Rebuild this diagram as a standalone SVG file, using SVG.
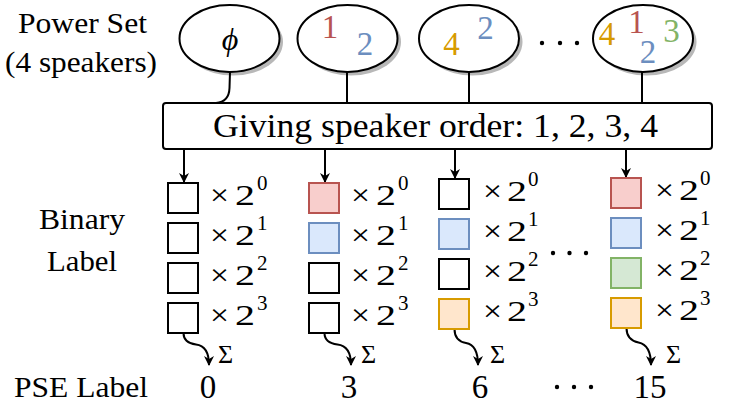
<svg xmlns="http://www.w3.org/2000/svg" width="748" height="416" viewBox="0 0 748 416">
<defs>
<style>
.el{fill:#fff;stroke:#000;stroke-width:2}
.sh{fill:#b8b8b8}
.bx{stroke-width:2}
.w{fill:#fff;stroke:#000}
.r{fill:#f8cecc;stroke:#b85450}
.b{fill:#dae8fc;stroke:#6c8ebf}
.g{fill:#d5e8d4;stroke:#82b366}
.o{fill:#ffe6cc;stroke:#d79b00}
.ln{fill:none;stroke:#000;stroke-width:2}
.cr{fill:#b85450}.cb{fill:#6c8ebf}.cg{fill:#82b366}.co{fill:#d79b00}
</style>
<marker id="ah" viewBox="0 0 10 10" refX="9" refY="5" markerWidth="10" markerHeight="10" markerUnits="userSpaceOnUse" orient="auto">
<path d="M0,0 L10,5 L0,10 L3,5 Z" fill="#000"/>
</marker>
</defs>
<rect width="748" height="416" fill="#fff"/>

<g id="labels" font-family="Liberation Serif" font-size="30" text-anchor="middle">
<text x="82.5" y="33" font-family="Liberation Serif" textLength="129" lengthAdjust="spacingAndGlyphs">Power Set</text>
<text x="81" y="72" font-family="Liberation Serif" textLength="152" lengthAdjust="spacingAndGlyphs">(4 speakers)</text>
<text x="82" y="229" font-family="Liberation Serif" textLength="86" lengthAdjust="spacingAndGlyphs">Binary</text>
<text x="82" y="271" font-family="Liberation Serif" textLength="70" lengthAdjust="spacingAndGlyphs">Label</text>
<text x="81" y="397" font-family="Liberation Serif" textLength="134" lengthAdjust="spacingAndGlyphs">PSE Label</text>
</g>

<g id="set-empty">
<ellipse class="sh" cx="233" cy="42" rx="50" ry="33.5"/>
<ellipse class="el" cx="229.5" cy="38.5" rx="50" ry="33.5"/>
<text x="230" y="50" font-family="Liberation Serif" font-size="32" font-style="italic" text-anchor="middle">ϕ</text>
</g>
<g id="set-12" font-family="Liberation Serif" font-size="33" text-anchor="middle">
<ellipse class="sh" cx="351" cy="42" rx="50" ry="33.5"/>
<ellipse class="el" cx="347.5" cy="38.5" rx="50" ry="33.5"/>
<text class="cr" x="330" y="38" font-family="Liberation Serif">1</text>
<text class="cb" x="365" y="55" font-family="Liberation Serif">2</text>
</g>
<g id="set-24" font-family="Liberation Serif" font-size="33" text-anchor="middle">
<ellipse class="sh" cx="472.5" cy="42" rx="50" ry="33.5"/>
<ellipse class="el" cx="469" cy="38.5" rx="50" ry="33.5"/>
<text class="co" x="451.5" y="55" font-family="Liberation Serif">4</text>
<text class="cb" x="485.5" y="39" font-family="Liberation Serif">2</text>
</g>
<g id="dots-top">
<circle cx="542" cy="43" r="2.2"/><circle cx="560" cy="43" r="2.2"/><circle cx="577" cy="43" r="2.2"/>
</g>
<g id="set-1234" font-family="Liberation Serif" font-size="33" text-anchor="middle">
<ellipse class="sh" cx="646.5" cy="42" rx="50" ry="33.5"/>
<ellipse class="el" cx="643" cy="38.5" rx="50" ry="33.5"/>
<text class="co" x="607" y="45" font-family="Liberation Serif">4</text>
<text class="cr" x="636.5" y="33" font-family="Liberation Serif">1</text>
<text class="cb" x="648" y="63" font-family="Liberation Serif">2</text>
<text class="cg" x="671.5" y="42" font-family="Liberation Serif">3</text>
</g>

<g id="order-box">
<rect x="163" y="103" width="549" height="46" rx="3" fill="#fff" stroke="#000" stroke-width="2"/>
<text x="435.5" y="137" font-family="Liberation Serif" font-size="33" text-anchor="middle" textLength="445" lengthAdjust="spacingAndGlyphs">Giving speaker order: 1, 2, 3, 4</text>
</g>

<g id="connectors">
<path class="ln" d="M230,72 L229.5,88 Q229,102 216,103"/>
<path class="ln" d="M347,72 V103"/>
<path class="ln" d="M469,72 V103"/>
<path class="ln" d="M642,72 V103"/>
<path class="ln" d="M184,149 V182" marker-end="url(#ah)"/>
<path class="ln" d="M325,149 V182" marker-end="url(#ah)"/>
<path class="ln" d="M455,149 V178" marker-end="url(#ah)"/>
<path class="ln" d="M626,149 V177" marker-end="url(#ah)"/>
<path class="ln" d="M183.5,333 Q183.5,343 196,344.5 Q209,346 209,365" marker-end="url(#ah)"/>
<path class="ln" d="M324.5,333 Q324.5,343 337.5,344.5 Q351,346 351,365" marker-end="url(#ah)"/>
<path class="ln" d="M454.5,329 Q454.5,341 466,343 Q478,345 478,365" marker-end="url(#ah)"/>
<path class="ln" d="M626.5,328 Q626.5,340 638.5,342.5 Q651,345 651,365" marker-end="url(#ah)"/>
</g>

<g id="col-0" font-family="Liberation Serif" font-size="30">
<rect class="bx w" x="168" y="183" width="30" height="30"/>
<rect class="bx w" x="168" y="223" width="30" height="30"/>
<rect class="bx w" x="168" y="263" width="30" height="30"/>
<rect class="bx w" x="168" y="303" width="30" height="30"/>
<text x="210" y="205" font-family="Liberation Serif" textLength="19" lengthAdjust="spacingAndGlyphs">×</text><text x="235" y="205" font-family="Liberation Serif" textLength="20" lengthAdjust="spacingAndGlyphs">2</text><text x="257" y="190" font-family="Liberation Serif" font-size="21">0</text>
<text x="210" y="245" font-family="Liberation Serif" textLength="19" lengthAdjust="spacingAndGlyphs">×</text><text x="235" y="245" font-family="Liberation Serif" textLength="20" lengthAdjust="spacingAndGlyphs">2</text><text x="257" y="230" font-family="Liberation Serif" font-size="21">1</text>
<text x="210" y="285" font-family="Liberation Serif" textLength="19" lengthAdjust="spacingAndGlyphs">×</text><text x="235" y="285" font-family="Liberation Serif" textLength="20" lengthAdjust="spacingAndGlyphs">2</text><text x="257" y="270" font-family="Liberation Serif" font-size="21">2</text>
<text x="210" y="325" font-family="Liberation Serif" textLength="19" lengthAdjust="spacingAndGlyphs">×</text><text x="235" y="325" font-family="Liberation Serif" textLength="20" lengthAdjust="spacingAndGlyphs">2</text><text x="257" y="310" font-family="Liberation Serif" font-size="21">3</text>
</g>
<g id="col-3" font-family="Liberation Serif" font-size="30">
<rect class="bx r" x="309" y="183" width="30" height="30"/>
<rect class="bx b" x="309" y="223" width="30" height="30"/>
<rect class="bx w" x="309" y="263" width="30" height="30"/>
<rect class="bx w" x="309" y="303" width="30" height="30"/>
<text x="351" y="205" font-family="Liberation Serif" textLength="19" lengthAdjust="spacingAndGlyphs">×</text><text x="376" y="205" font-family="Liberation Serif" textLength="20" lengthAdjust="spacingAndGlyphs">2</text><text x="398" y="190" font-family="Liberation Serif" font-size="21">0</text>
<text x="351" y="245" font-family="Liberation Serif" textLength="19" lengthAdjust="spacingAndGlyphs">×</text><text x="376" y="245" font-family="Liberation Serif" textLength="20" lengthAdjust="spacingAndGlyphs">2</text><text x="398" y="230" font-family="Liberation Serif" font-size="21">1</text>
<text x="351" y="285" font-family="Liberation Serif" textLength="19" lengthAdjust="spacingAndGlyphs">×</text><text x="376" y="285" font-family="Liberation Serif" textLength="20" lengthAdjust="spacingAndGlyphs">2</text><text x="398" y="270" font-family="Liberation Serif" font-size="21">2</text>
<text x="351" y="325" font-family="Liberation Serif" textLength="19" lengthAdjust="spacingAndGlyphs">×</text><text x="376" y="325" font-family="Liberation Serif" textLength="20" lengthAdjust="spacingAndGlyphs">2</text><text x="398" y="310" font-family="Liberation Serif" font-size="21">3</text>
</g>
<g id="col-6" font-family="Liberation Serif" font-size="30">
<rect class="bx w" x="439" y="179" width="30" height="30"/>
<rect class="bx b" x="439" y="219" width="30" height="30"/>
<rect class="bx w" x="439" y="259" width="30" height="30"/>
<rect class="bx o" x="439" y="299" width="30" height="30"/>
<text x="483" y="201" font-family="Liberation Serif" textLength="19" lengthAdjust="spacingAndGlyphs">×</text><text x="507" y="201" font-family="Liberation Serif" textLength="20" lengthAdjust="spacingAndGlyphs">2</text><text x="528" y="186" font-family="Liberation Serif" font-size="21">0</text>
<text x="483" y="241" font-family="Liberation Serif" textLength="19" lengthAdjust="spacingAndGlyphs">×</text><text x="507" y="241" font-family="Liberation Serif" textLength="20" lengthAdjust="spacingAndGlyphs">2</text><text x="528" y="226" font-family="Liberation Serif" font-size="21">1</text>
<text x="483" y="281" font-family="Liberation Serif" textLength="19" lengthAdjust="spacingAndGlyphs">×</text><text x="507" y="281" font-family="Liberation Serif" textLength="20" lengthAdjust="spacingAndGlyphs">2</text><text x="528" y="266" font-family="Liberation Serif" font-size="21">2</text>
<text x="483" y="321" font-family="Liberation Serif" textLength="19" lengthAdjust="spacingAndGlyphs">×</text><text x="507" y="321" font-family="Liberation Serif" textLength="20" lengthAdjust="spacingAndGlyphs">2</text><text x="528" y="306" font-family="Liberation Serif" font-size="21">3</text>
</g>
<g id="dots-mid">
<circle cx="553" cy="253" r="2.2"/><circle cx="569.5" cy="253" r="2.2"/><circle cx="586" cy="253" r="2.2"/>
</g>
<g id="col-15" font-family="Liberation Serif" font-size="30">
<rect class="bx r" x="611" y="178" width="30" height="30"/>
<rect class="bx b" x="611" y="218" width="30" height="30"/>
<rect class="bx g" x="611" y="258" width="30" height="30"/>
<rect class="bx o" x="611" y="298" width="30" height="30"/>
<text x="655" y="200" font-family="Liberation Serif" textLength="19" lengthAdjust="spacingAndGlyphs">×</text><text x="679" y="200" font-family="Liberation Serif" textLength="20" lengthAdjust="spacingAndGlyphs">2</text><text x="700" y="185" font-family="Liberation Serif" font-size="21">0</text>
<text x="655" y="240" font-family="Liberation Serif" textLength="19" lengthAdjust="spacingAndGlyphs">×</text><text x="679" y="240" font-family="Liberation Serif" textLength="20" lengthAdjust="spacingAndGlyphs">2</text><text x="700" y="225" font-family="Liberation Serif" font-size="21">1</text>
<text x="655" y="280" font-family="Liberation Serif" textLength="19" lengthAdjust="spacingAndGlyphs">×</text><text x="679" y="280" font-family="Liberation Serif" textLength="20" lengthAdjust="spacingAndGlyphs">2</text><text x="700" y="265" font-family="Liberation Serif" font-size="21">2</text>
<text x="655" y="320" font-family="Liberation Serif" textLength="19" lengthAdjust="spacingAndGlyphs">×</text><text x="679" y="320" font-family="Liberation Serif" textLength="20" lengthAdjust="spacingAndGlyphs">2</text><text x="700" y="305" font-family="Liberation Serif" font-size="21">3</text>
</g>

<g id="sums" font-family="Liberation Serif" font-size="26">
<text x="218" y="363" font-family="Liberation Serif">Σ</text>
<text x="361" y="363" font-family="Liberation Serif">Σ</text>
<text x="490" y="363" font-family="Liberation Serif">Σ</text>
<text x="666" y="363" font-family="Liberation Serif">Σ</text>
</g>

<g id="pse" font-family="Liberation Serif" font-size="33" text-anchor="middle">
<text x="208" y="398" font-family="Liberation Serif">0</text>
<text x="349" y="398" font-family="Liberation Serif">3</text>
<text x="480" y="398" font-family="Liberation Serif">6</text>
<text x="650" y="398" font-family="Liberation Serif">15</text>
<circle cx="557" cy="387" r="2.2"/><circle cx="574" cy="387" r="2.2"/><circle cx="591" cy="387" r="2.2"/>
</g>
</svg>
